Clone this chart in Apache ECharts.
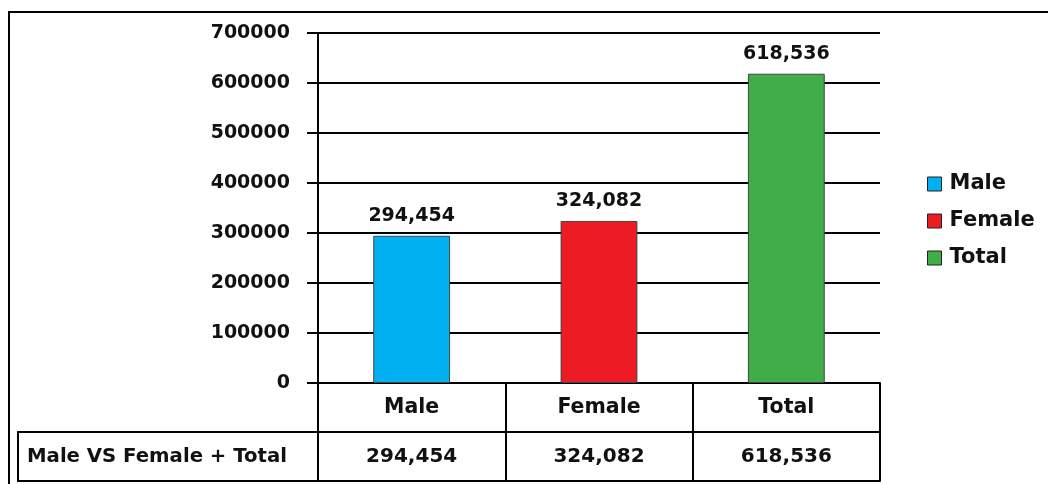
<!DOCTYPE html>
<html>
<head>
<meta charset="utf-8">
<script src="https://cdn.jsdelivr.net/npm/echarts@6/dist/echarts.min.js"></script>
<style>html,body{margin:0;padding:0;background:#fff;}#c{width:1048px;height:484px;}</style>
</head>
<body>
<div id="c"></div>
<script>
var categories = ['Male', 'Female', 'Total'];
var values = [294454, 324082, 618536];
var seriesColors = ['#00B0F0', '#ED1C24', '#3FAE49'];
var tableRowLabel = 'Male VS Female + Total';
var yMin = 0, yMax = 700000, yInterval = 100000;

var FONT = 'DejaVu Sans';
var G = {left: 318, right: 880, top: 33, bottom: 383};
var ROW = 49;

function fmt(v) { return v.toLocaleString('en-US'); }

var series = categories.map(function (name, i) {
  return {
    name: name,
    type: 'bar',
    stack: 'all',
    barWidth: '41%',
    itemStyle: {color: seriesColors[i], borderColor: '#444', borderWidth: 1},
    label: {show: true, position: 'top', distance: 10, formatter: function (p) { return fmt(p.value); },
      color: '#111', fontFamily: FONT, fontWeight: 'bold', fontSize: 19},
    data: categories.map(function (c, j) { return j === i ? values[i] : '-'; })
  };
});

var chart = echarts.init(document.getElementById('c'), null, {renderer: 'canvas'});
chart.setOption({
  animation: false,
  backgroundColor: '#fff',
  grid: {left: G.left, right: 1048 - G.right, top: G.top, bottom: 484 - G.bottom},
  legend: {
    orient: 'vertical', left: 922, top: 168, itemGap: 15,
    itemWidth: 14, itemHeight: 14, icon: 'rect',
    itemStyle: {borderColor: '#222', borderWidth: 1},
    textStyle: {fontFamily: FONT, fontWeight: 'bold', fontSize: 21, lineHeight: 22, color: '#111', padding: [0, 0, 0, 3]},
    data: categories
  },
  xAxis: [
    {
      type: 'category', data: categories, position: 'bottom',
      axisLine: {show: true, lineStyle: {color: '#000', width: 2}},
      axisTick: {show: true, interval: 0, alignWithLabel: false, length: ROW * 2, lineStyle: {color: '#000', width: 2}},
      axisLabel: {interval: 0, margin: 0, lineHeight: ROW, fontFamily: FONT, fontWeight: 'bold', fontSize: 20.5, color: '#111'},
      splitLine: {show: false}
    },
    {
      type: 'category', data: categories, position: 'bottom', offset: ROW,
      axisLine: {show: true, lineStyle: {color: '#000', width: 2}},
      axisTick: {show: false},
      axisLabel: {interval: 0, margin: 0, lineHeight: ROW, fontFamily: FONT, fontWeight: 'bold', fontSize: 20, color: '#111',
        formatter: function (v, i) { return fmt(values[i]); }},
      splitLine: {show: false}
    },
    {
      type: 'category', data: categories, position: 'bottom', offset: ROW * 2,
      axisLine: {show: true, lineStyle: {color: '#000', width: 2}},
      axisTick: {show: false}, axisLabel: {show: false}, splitLine: {show: false}
    }
  ],
  yAxis: {
    type: 'value', min: yMin, max: yMax, interval: yInterval,
    axisLine: {show: true, lineStyle: {color: '#000', width: 2}},
    axisTick: {show: true, length: 11, lineStyle: {color: '#000', width: 2}},
    axisLabel: {margin: 28, fontFamily: FONT, fontWeight: 'bold', fontSize: 19, color: '#111',
      formatter: function (v) { return String(v); }},
    splitLine: {show: true, lineStyle: {color: '#000', width: 2}}
  },
  series: series,
  graphic: [
    {type: 'rect', shape: {x: 9, y: 12, width: 1100, height: 600}, style: {fill: 'none', stroke: '#000', lineWidth: 2}, silent: true},
    {type: 'rect', shape: {x: 18, y: G.bottom + ROW, width: G.left - 18, height: ROW},
      style: {fill: 'none', stroke: '#000', lineWidth: 2}, silent: true},
    {type: 'text', x: 27, y: G.bottom + ROW * 1.5,
      style: {text: tableRowLabel, fontFamily: FONT, fontWeight: 'bold', fontSize: 19.7, fill: '#111', verticalAlign: 'middle', align: 'left'}}
  ]
});
</script>
</body>
</html>
